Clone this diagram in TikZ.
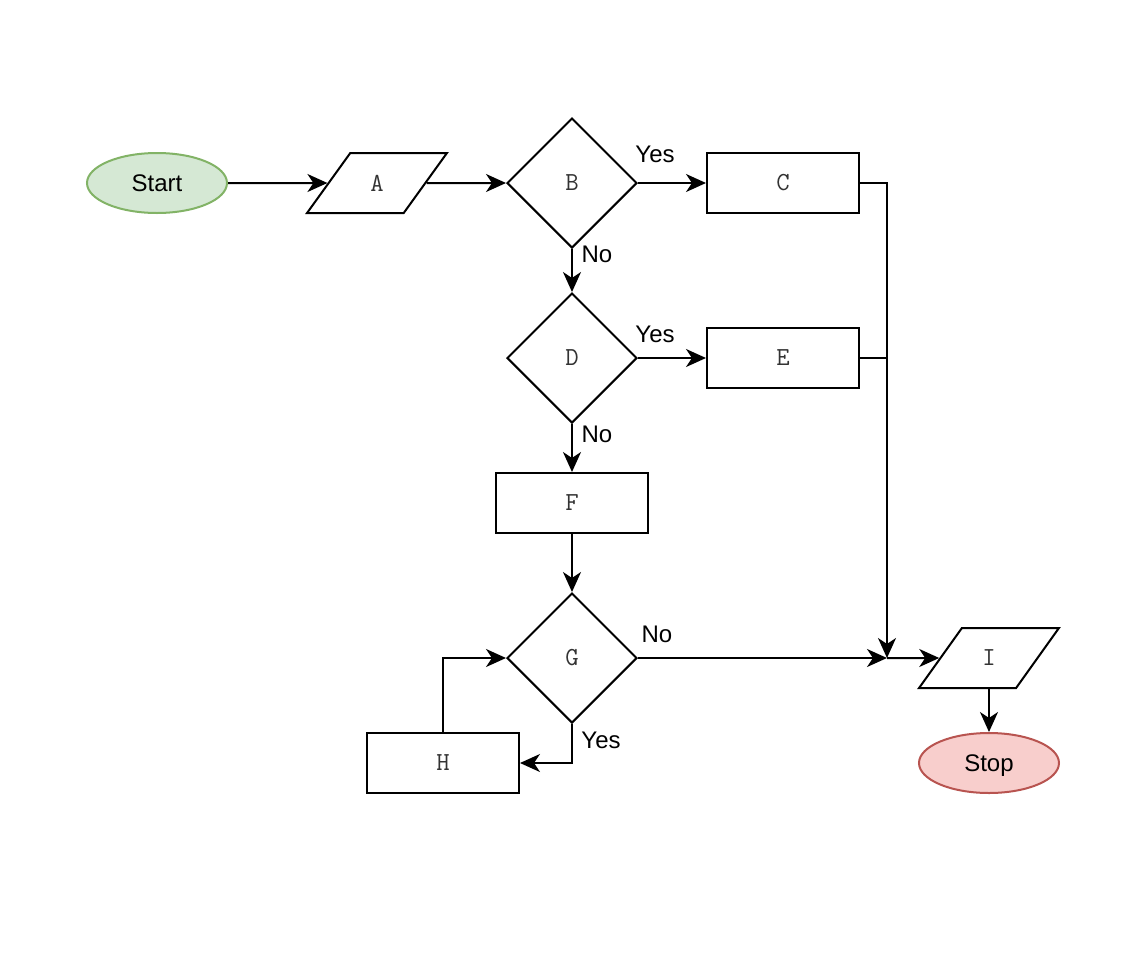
\documentclass[tikz,border=0pt]{standalone}
\usepackage{fontspec}
\setmainfont{Liberation Sans}
\usetikzlibrary{shapes.geometric,arrows.meta,positioning,calc}

\definecolor{startfill}{HTML}{D5E8D4}
\definecolor{startdraw}{HTML}{82B366}
\definecolor{stopfill}{HTML}{F8CECC}
\definecolor{stopdraw}{HTML}{B85450}
\definecolor{monotext}{HTML}{333333}

\begin{document}
\begin{tikzpicture}
[
	x=0.5pt, y=-0.5pt,
	every node/.style={font=\fontsize{12pt}{14pt}\selectfont},
	mono/.style={font=\ttfamily\fontsize{13pt}{15pt}\selectfont,text=monotext},
	term/.style={ellipse,draw,line width=1pt,minimum width=70pt,minimum height=30pt,inner sep=0pt,text depth=0pt},
	io/.style={trapezium,draw=black,line width=1pt,trapezium left angle=56.3,trapezium right angle=123.7,trapezium stretches=true,minimum width=70pt,minimum height=30pt,inner sep=0pt,mono},
	box/.style={rectangle,draw=black,line width=1pt,minimum width=76pt,minimum height=30pt,inner sep=0pt,mono},
	test/.style={diamond,draw=black,line width=1pt,minimum width=65pt,minimum height=65pt,inner sep=0pt,mono},
	lbl/.style={inner sep=0pt},
	arr/.style={line width=1pt,-{Stealth[length=10pt,width=9pt,inset=3pt]}},
	ln/.style={line width=1pt},
]
	\useasboundingbox (0,0) rectangle (1148,954);

	% shapes
	\node[term,fill=startfill,draw=startdraw] (start) at (157,183) {Start};
	\node[io] (A) at (377,183) {A};
	\node[test] (B) at (572,183) {B};
	\node[box] (C) at (783,183) {C};
	\node[test] (D) at (572,358) {D};
	\node[box] (E) at (783,358) {E};
	\node[box] (F) at (572,503) {F};
	\node[test] (G) at (572,658) {G};
	\node[box] (H) at (443,763) {H};
	\node[io] (I) at (989,658) {I};
	\node[term,fill=stopfill,draw=stopdraw] (stop) at (989,763) {Stop};
	\coordinate (J) at (887,658);

	% labels
	\node[lbl] (yesB) at (655,154) {Yes};
	\node[lbl] (noB) at (597,254) {No};
	\node[lbl] (yesD) at (655,334) {Yes};
	\node[lbl] (noD) at (597,434) {No};
	\node[lbl] (noG) at (657,634) {No};
	\node[lbl] (yesG) at (601,740) {Yes};

	% connectors
	\draw[arr] (start) -- (A);
	\draw[arr] (A) -- (B);
	\draw[arr] (B) -- (C);
	\draw[arr] (B) -- (D);
	\draw[arr] (D) -- (E);
	\draw[arr] (D) -- (F);
	\draw[arr] (F) -- (G);
	\draw[arr] (G.south) |- (H.east);
	\draw[arr] (H.north) |- (G.west);
	\draw[arr] (G) -- (J);
	\draw[arr] (C.east) -| (J);
	\draw[ln] (E.east) -- (E.east -| J);
	\draw[arr] (J) -- (I);
	\draw[arr] (I) -- (stop);
\end{tikzpicture}
\end{document}
